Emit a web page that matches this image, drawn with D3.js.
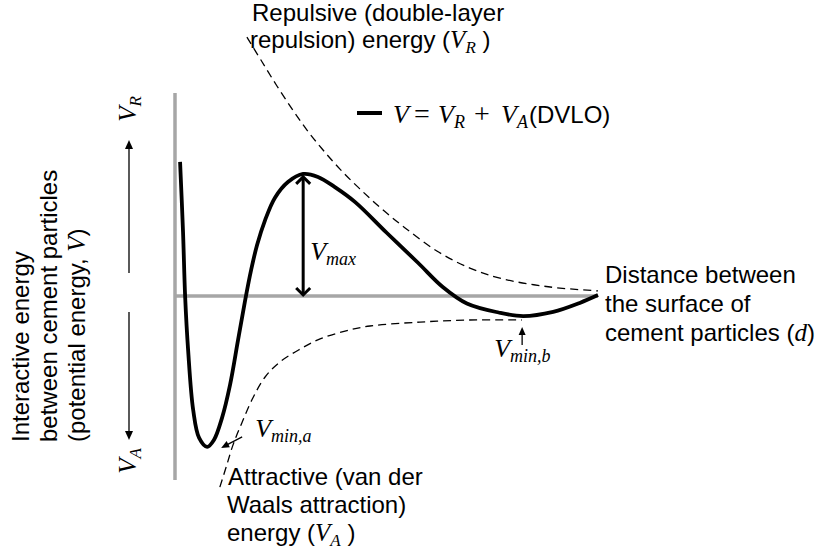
<!DOCTYPE html>
<html>
<head>
<meta charset="utf-8">
<script src="https://cdn.jsdelivr.net/npm/d3@7"></script>
<style>
  body { margin: 0; background: #ffffff; }
  svg { display: block; }
</style>
</head>
<body>
<svg id="chart" width="818" height="553"></svg>
<script>
// DLVO interaction energy V(d) = V_R(d) + V_A(d), schematic curves (arbitrary units)
const totalD = [0.12, 0.19, 0.24, 0.31, 0.43, 0.57, 0.76, 0.92, 1.11, 1.30, 1.49, 1.66, 1.80, 1.94, 2.13, 2.36, 2.67, 3.03, 3.38, 3.78, 4.26, 5.01, 5.75, 6.33, 6.90, 7.65, 8.23, 8.94, 9.57, 10.0];
const totalV = [4.47, 2.13, -0.03, -1.80, -3.80, -4.73, -5.03, -4.80, -4.07, -2.97, -1.47, -0.13, 0.87, 1.70, 2.53, 3.27, 3.80, 4.07, 3.97, 3.63, 3.13, 2.10, 1.10, 0.30, -0.25, -0.55, -0.67, -0.53, -0.23, 0.03];

// Repulsive (double-layer) energy V_R
const repD = [1.70, 2.06, 2.41, 2.77, 3.12, 3.48, 3.90, 4.37, 4.89, 5.44, 6.19, 6.97, 7.75, 8.87, 10.0];
const repV = [8.63, 7.80, 7.00, 6.23, 5.53, 4.90, 4.23, 3.57, 2.90, 2.27, 1.50, 0.93, 0.57, 0.30, 0.17];

// Attractive (van der Waals) energy V_A
const attD = [1.06, 1.21, 1.37, 1.58, 1.84, 2.13, 2.48, 2.96, 3.43, 4.02, 4.61, 5.79, 6.97, 8.20];
const attV = [-6.37, -5.70, -4.97, -4.23, -3.40, -2.70, -2.20, -1.77, -1.43, -1.17, -1.00, -0.87, -0.80, -0.80];

// Extent of the energy axis and of the distance axis
const energyAxis = [-6.13, 6.77];
const distanceAxis = [0, 10];

const svg = d3.select("#chart");
const x = d3.scaleLinear().domain([0, 10]).range([175, 598]);
const y = d3.scaleLinear().domain([-6, 7]).range([476, 86]);

const SANS = "'Liberation Sans', Arial, sans-serif";
const SERIF = "'Liberation Serif', 'Times New Roman', serif";
const AXIS_GREY = "#a6a6a6";

const zip = (ds, vs) => ds.map((d, i) => ({ d, v: vs[i] }));
const line = d3.line().x(p => x(p.d)).y(p => y(p.v)).curve(d3.curveCatmullRom.alpha(0.5));

// axes
svg.append("line")
  .attr("x1", x(0)).attr("x2", x(0))
  .attr("y1", y(energyAxis[1])).attr("y2", y(energyAxis[0]))
  .attr("stroke", AXIS_GREY).attr("stroke-width", 3.5);
svg.append("line")
  .attr("x1", x(distanceAxis[0])).attr("x2", x(distanceAxis[1]))
  .attr("y1", y(0)).attr("y2", y(0))
  .attr("stroke", AXIS_GREY).attr("stroke-width", 3.5);

// component curves (dashed)
svg.append("path").datum(zip(repD, repV))
  .attr("d", line).attr("fill", "none")
  .attr("stroke", "#000").attr("stroke-width", 1.3).attr("stroke-dasharray", "8,5");
svg.append("path").datum(zip(attD, attV))
  .attr("d", line).attr("fill", "none")
  .attr("stroke", "#000").attr("stroke-width", 1.3).attr("stroke-dasharray", "8,5");

// total energy curve
const total = zip(totalD, totalV);
svg.append("path").datum(total)
  .attr("d", line).attr("fill", "none")
  .attr("stroke", "#000").attr("stroke-width", 3.8)
  .attr("stroke-linejoin", "round").attr("stroke-linecap", "butt");

// arrow helpers
function filledHead(px, py, angleDeg, len, half) {
  const a = angleDeg * Math.PI / 180;
  const ux = Math.cos(a), uy = Math.sin(a);
  const bx = px - ux * len, by = py - uy * len;
  const pts = [[px, py], [bx - uy * half, by + ux * half], [bx + uy * half, by - ux * half]];
  svg.append("path").attr("d", "M" + pts.map(p => p.join(",")).join("L") + "Z").attr("fill", "#000");
}
function arrow(x1, y1, x2, y2, width, len, half) {
  const a = Math.atan2(y2 - y1, x2 - x1);
  svg.append("line")
    .attr("x1", x1).attr("y1", y1)
    .attr("x2", x2 - Math.cos(a) * len * 0.8).attr("y2", y2 - Math.sin(a) * len * 0.8)
    .attr("stroke", "#000").attr("stroke-width", width);
  filledHead(x2, y2, a * 180 / Math.PI, len, half);
}
function chevron(px, py, dir, arm) {
  // dir: -1 points up, +1 points down
  svg.append("path")
    .attr("d", `M${px - arm},${py - dir * arm}L${px},${py}L${px + arm},${py - dir * arm}`)
    .attr("fill", "none").attr("stroke", "#000").attr("stroke-width", 3)
    .attr("stroke-linejoin", "miter");
}

// V_max: energy barrier (maximum beyond the primary well), measured from zero
const peak = total.filter(p => p.d > 1).reduce((m, p) => (p.v > m.v ? p : m));
const vmaxX = x(peak.d);
svg.append("line")
  .attr("x1", vmaxX).attr("x2", vmaxX)
  .attr("y1", y(peak.v) + 4).attr("y2", y(0) - 2)
  .attr("stroke", "#000").attr("stroke-width", 3);
chevron(vmaxX, y(peak.v) + 3, -1, 7);
chevron(vmaxX, y(0) - 1, 1, 7);

// secondary minimum
const secMin = total.filter(p => p.d > 6).reduce((m, p) => (p.v < m.v ? p : m));
arrow(x(secMin.d) - 1, y(secMin.v) + 29, x(secMin.d) - 1, y(secMin.v) + 11, 1.3, 8, 3.5);

// primary minimum
const priMin = total.filter(p => p.d < 2).reduce((m, p) => (p.v < m.v ? p : m));
arrow(x(priMin.d) + 35, y(priMin.v) - 10, x(priMin.d) + 14, y(priMin.v) + 1, 1.3, 8, 3.5);

// energy direction arrows beside the vertical axis
arrow(129, 273, 129, 140, 1.3, 9, 4);
arrow(129, 312, 129, 440, 1.3, 9, 4);

// text helpers: parts = [text, kind], kind: "s" sans, "m" math italic, "sub" subscript
function richText(g, parts, sansSize, mathSize, subSize, subShift) {
  let shifted = false;
  parts.forEach(([t, kind]) => {
    const ts = g.append("tspan").text(t);
    if (kind === "s") {
      ts.attr("font-family", SANS).attr("font-size", sansSize);
    } else if (kind === "n") {
      ts.attr("font-family", SERIF).attr("font-size", mathSize + 2);
    } else {
      ts.attr("font-family", SERIF).attr("font-style", "italic")
        .attr("font-size", kind === "sub" ? subSize : mathSize);
    }
    if (kind === "sub" && !shifted) { ts.attr("dy", subShift); shifted = true; }
    else if (kind !== "sub" && shifted) { ts.attr("dy", -subShift); shifted = false; }
  });
}
function label(xp, yp, parts, opts = {}) {
  const t = svg.append("text").attr("x", xp).attr("y", yp).attr("fill", "#000")
    .attr("text-anchor", opts.anchor || "start");
  if (opts.rotate) t.attr("transform", `rotate(${opts.rotate},${xp},${yp})`);
  richText(t, parts, opts.sans || 24, opts.math || 26, opts.sub || 18, opts.shift || 5);
  return t;
}

// curve captions
label(252, 21, [["Repulsive (double-layer", "s"]]);
label(250, 48, [["repulsion) energy (", "s"], ["V", "m"], ["R", "sub"], [" )", "s"]], { math: 25, sub: 17 });

label(228, 485, [["Attractive (van der", "s"]]);
label(227, 513, [["Waals attraction)", "s"]]);
label(227, 541, [["energy (", "s"], ["V", "m"], ["A", "sub"], [" )", "s"]], { math: 25, sub: 17 });

label(605, 283, [["Distance between", "s"]]);
label(605, 312, [["the surface of", "s"]]);
label(605, 341, [["cement particles (", "s"], ["d", "m"], [")", "s"]], { math: 25 });

// annotations
label(vmaxX + 7, 260, [["V", "m"], ["max", "sub"]]);
label(x(secMin.d) - 29, 357, [["V", "m"], ["min,b", "sub"]]);
label(x(priMin.d) + 48, 437, [["V", "m"], ["min,a", "sub"]]);

// legend
svg.append("line").attr("x1", 357).attr("x2", 382).attr("y1", 113).attr("y2", 113)
  .attr("stroke", "#000").attr("stroke-width", 4);
label(393, 123, [["V", "m"]]);
svg.append("text").attr("x", 422).attr("y", 123).attr("text-anchor", "middle")
  .attr("font-family", SERIF).attr("font-size", 28).text("=");
label(438, 123, [["V", "m"], ["R", "sub"]]);
svg.append("text").attr("x", 482).attr("y", 123).attr("text-anchor", "middle")
  .attr("font-family", SERIF).attr("font-size", 28).text("+");
label(501, 123, [["V", "m"], ["A", "sub"]]);
label(529, 123, [["(DVLO)", "s"]]);

// energy axis title (rotated)
label(29, 442, [["Interactive energy", "s"]], { rotate: -90 });
label(57, 442, [["between cement particles", "s"]], { rotate: -90 });
label(85, 442, [["(potential energy, ", "s"], ["V", "m"], [")", "s"]], { rotate: -90, math: 25 });

// energy direction labels
label(136, 109, [["V", "m"], ["R", "sub"]], { rotate: -90, anchor: "middle", math: 25, sub: 17 });
label(136, 461, [["V", "m"], ["A", "sub"]], { rotate: -90, anchor: "middle", math: 25, sub: 17 });
</script>
</body>
</html>
